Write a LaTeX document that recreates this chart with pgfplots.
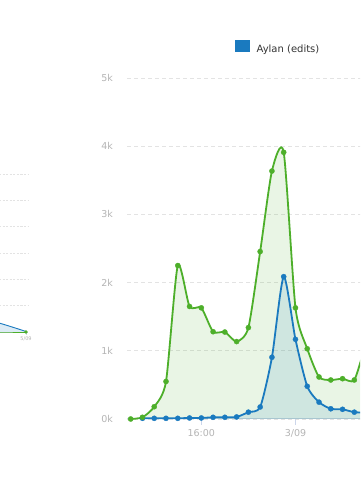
\documentclass[border=0pt]{standalone}
\usepackage{pgfplots}
\pgfplotsset{compat=1.18}
\usepackage{fontspec}
\setmainfont{DejaVu Sans}
\definecolor{aylanblue}{HTML}{1A7ABF}
\definecolor{edgreen}{HTML}{4DAF2A}
\definecolor{gridc}{HTML}{E3E3E3}
\definecolor{axisc}{HTML}{CCD6EB}
\definecolor{labc}{HTML}{B5B5B5}
\definecolor{textdark}{HTML}{333333}

\pgfplotstableread{
h v
10 0
11 25
12 180
13 550
14 2250
15 1650
16 1630
17 1280
18 1275
19 1135
20 1340
21 2455
22 3636
23 3910
24 1630
25 1030
26 616
27 572
28 591
29 572
30 1100
31 1400
}\greendata

\pgfplotstableread{
h v
11 10
12 10
13 10
14 10
15 15
16 15
17 25
18 25
19 30
20 100
21 176
22 905
23 2087
24 1168
25 480
26 247
27 150
28 142
29 100
30 95
31 90
}\bluedata

\begin{document}
\begin{tikzpicture}[x=1pt,y=1pt]
\useasboundingbox (0,0) rectangle (360,500);
\fill[white] (0,0) rectangle (360,500);
\clip (0,0) rectangle (360,500);

% partial chart on the left
\begin{axis}[at={(-60pt,168pt)}, anchor=south west, scale only axis,
  width=88pt, height=158pt,
  xmin=-60, xmax=28, ymin=0, ymax=6,
  axis x line*=bottom, axis y line*=left,
  y axis line style={draw=none}, x axis line style={axisc, line width=0.5pt},
  ytick={1,...,6}, yticklabels={}, ymajorgrids,
  grid style={gridc, dash pattern=on 2pt off 1.5pt, line width=0.5pt},
  xtick={26}, xticklabels={5/09}, tick align=outside, major tick length=3pt,
  xtick style={axisc, line width=0.5pt}, ytick style={draw=none},
  xticklabel style={font=\fontsize{5}{6}\selectfont, text=labc, inner sep=0pt, yshift=-2pt},
  clip=false]
\addplot[draw=none, fill=aylanblue, fill opacity=0.15, smooth] coordinates {(-60,0.95)(-30,0.62)(0,0.33)(26,0.02)} \closedcycle;
\addplot[aylanblue, line width=0.9pt, smooth] coordinates {(-60,0.95)(-30,0.62)(0,0.33)(26,0.02)};
\addplot[edgreen, line width=0.9pt, mark=*, mark size=1.2pt, mark indices={4}] coordinates {(-60,0)(-30,0)(0,0)(26,0)};
\end{axis}

% main chart
\begin{axis}[at={(127pt,81pt)}, anchor=south west, scale only axis,
  width=274.4pt, height=341pt,
  xmin=9.686, xmax=33, ymin=0, ymax=5000,
  axis x line*=bottom, axis y line*=left,
  y axis line style={draw=none}, x axis line style={axisc, line width=1pt},
  ytick={0,1000,...,5000}, yticklabels={0k,1k,2k,3k,4k,5k}, ymajorgrids,
  grid style={gridc, dash pattern=on 4pt off 3pt, line width=0.8pt},
  xtick={16,24,32}, xticklabels={16:00,3/09,{}},
  tick align=outside, major tick length=6pt,
  xtick style={axisc, line width=1pt}, ytick style={draw=none},
  yticklabel style={font=\fontsize{9.5}{11}\selectfont, text=labc, anchor=east, inner sep=0pt, xshift=-8pt},
  xticklabel style={font=\fontsize{9.5}{11}\selectfont, text=labc, anchor=north, inner sep=0pt, yshift=-4pt},
  legend style={at={(axis description cs:0.3936,1)}, anchor=west, yshift=30pt,
    draw=none, fill=none, inner sep=0pt, font=\fontsize{10}{12}\selectfont, text=textdark},
  legend cell align=left,
  clip=false]
\addlegendimage{legend image code/.code={\fill[aylanblue] (0pt,-2pt) rectangle (14pt,9pt); \path (19pt,0pt);}}
\addlegendentry{Aylan (edits)}
\addplot[forget plot, draw=none, fill=edgreen, fill opacity=0.12, smooth, tension=0.4] table[x=h,y=v] {\greendata} \closedcycle;
\addplot[forget plot, draw=none, fill=aylanblue, fill opacity=0.12, smooth, tension=0.4] table[x=h,y=v] {\bluedata} \closedcycle;
\addplot[forget plot, aylanblue, line width=1.8pt, smooth, tension=0.4, mark=*, mark size=2.6pt, mark options={fill=aylanblue, draw=aylanblue, line width=0.3pt}] table[x=h,y=v] {\bluedata};
\addplot[forget plot, edgreen, line width=1.8pt, smooth, tension=0.4, mark=*, mark size=2.6pt, mark options={fill=edgreen, draw=edgreen, line width=0.3pt}] table[x=h,y=v] {\greendata};
\end{axis}
\end{tikzpicture}
\end{document}
